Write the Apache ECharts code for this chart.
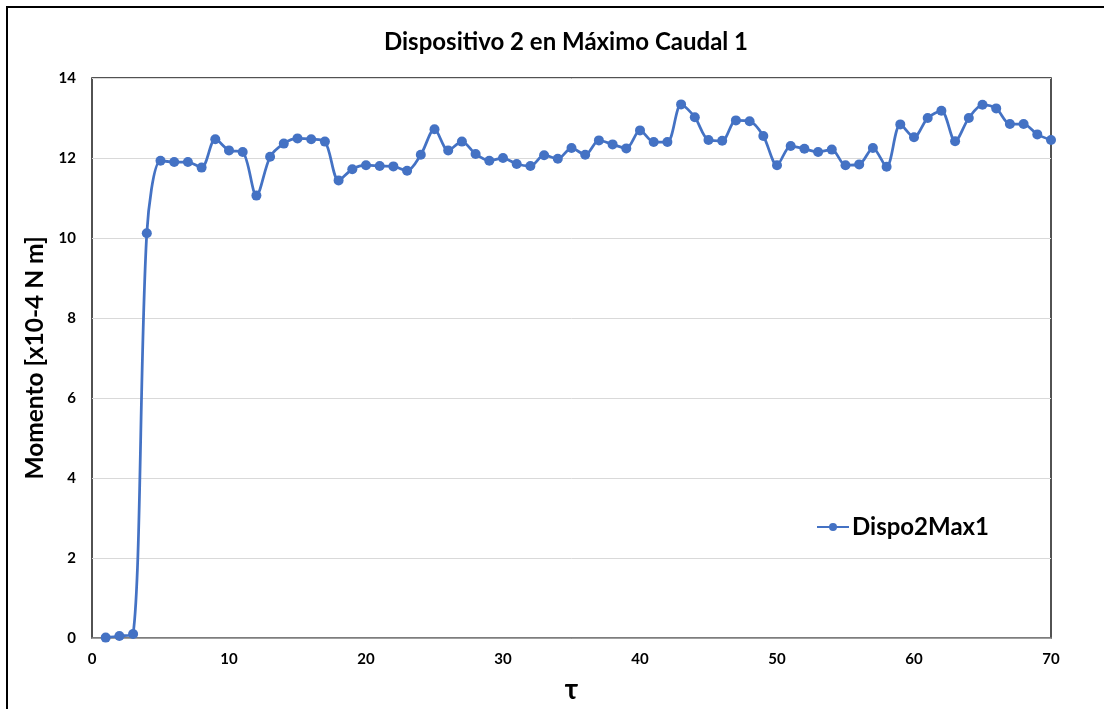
<!DOCTYPE html>
<html>
<head>
<meta charset="utf-8">
<script src="https://cdn.jsdelivr.net/npm/echarts@6/dist/echarts.min.js"></script>
<style>
  html, body { margin: 0; padding: 0; background: #fff; }
  #chart { width: 1104px; height: 709px; }
</style>
</head>
<body>
<div id="chart"></div>
<script>
// Time steps (tau) and measured moment values [x10-4 N m]
const tau = [1, 2, 3, 4, 5, 6, 7, 8, 9, 10,
  11, 12, 13, 14, 15, 16, 17, 18, 19, 20,
  21, 22, 23, 24, 25, 26, 27, 28, 29, 30,
  31, 32, 33, 34, 35, 36, 37, 38, 39, 40,
  41, 42, 43, 44, 45, 46, 47, 48, 49, 50,
  51, 52, 53, 54, 55, 56, 57, 58, 59, 60,
  61, 62, 63, 64, 65, 66, 67, 68, 69, 70];
const momento = [0.01, 0.05, 0.10, 10.12, 11.93, 11.90, 11.90, 11.76, 12.47, 12.19,
  12.15, 11.06, 12.03, 12.36, 12.49, 12.47, 12.41, 11.44, 11.72, 11.82,
  11.80, 11.79, 11.68, 12.08, 12.72, 12.19, 12.41, 12.10, 11.93, 12.00,
  11.85, 11.80, 12.07, 11.98, 12.25, 12.08, 12.44, 12.34, 12.24, 12.69,
  12.40, 12.40, 13.34, 13.02, 12.45, 12.43, 12.94, 12.92, 12.55, 11.82,
  12.30, 12.23, 12.15, 12.21, 11.82, 11.84, 12.25, 11.78, 12.84, 12.52,
  13.00, 13.18, 12.42, 13.00, 13.33, 13.24, 12.85, 12.85, 12.59, 12.45];
const seriesName = 'Dispo2Max1';
const chartTitle = 'Dispositivo 2 en Máximo Caudal 1';
const yAxisName = 'Momento [x10-4 N m]';
const xAxisName = 'τ';

const points = tau.map((t, i) => [t, momento[i]]);
const font = 'Lato, "Open Sans", sans-serif';
const blue = '#4472C4';

const chart = echarts.init(document.getElementById('chart'), null, { renderer: 'canvas' });
chart.setOption({
  backgroundColor: '#fff',
  animation: false,
  title: {
    text: chartTitle,
    left: 561,
    top: 25,
    textAlign: 'center',
    textStyle: { fontFamily: font, fontWeight: 'bold', fontSize: 24, color: '#000' }
  },
  graphic: [{
    type: 'rect',
    shape: { x: 7, y: 7, width: 1120, height: 730 },
    style: { fill: 'none', stroke: '#000', lineWidth: 2 },
    silent: true
  }],
  legend: {
    data: [seriesName],
    left: 811,
    top: 510,
    itemWidth: 32,
    itemHeight: 10,
    itemGap: 4,
    textStyle: { fontFamily: font, fontWeight: 'bold', fontSize: 24, color: '#000', padding: [0, 0, 0, -2] }
  },
  grid: {
    left: 92, right: 53, top: 78, bottom: 70,
    show: true, borderColor: '#1a1a1a', borderWidth: 1.5, backgroundColor: 'transparent'
  },
  xAxis: {
    type: 'value',
    min: 0, max: 70, interval: 10,
    name: xAxisName,
    nameLocation: 'middle',
    nameGap: 38,
    nameTextStyle: { fontFamily: font, fontWeight: 'bold', fontSize: 28, color: '#000' },
    axisLine: { show: true, lineStyle: { color: '#8c8c8c', width: 1.5 } },
    axisTick: { show: false },
    splitLine: { show: false },
    axisLabel: { fontFamily: font, fontWeight: 'bold', fontSize: 15, color: '#000', margin: 14 }
  },
  yAxis: {
    type: 'value',
    min: 0, max: 14, interval: 2,
    name: yAxisName,
    nameLocation: 'middle',
    nameGap: 43,
    nameTextStyle: { fontFamily: font, fontWeight: 'bold', fontSize: 24.5, color: '#000' },
    axisLine: { show: false },
    axisTick: { show: false },
    splitLine: { show: true, lineStyle: { color: '#d9d9d9', width: 1 } },
    axisLabel: { fontFamily: font, fontWeight: 'bold', fontSize: 15, color: '#000', margin: 16 }
  },
  series: [{
    name: seriesName,
    type: 'line',
    data: points,
    smooth: 0.3,
    symbol: 'circle',
    symbolSize: 10,
    lineStyle: { color: blue, width: 2.75 },
    itemStyle: { color: blue }
  }]
});
</script>
</body>
</html>
